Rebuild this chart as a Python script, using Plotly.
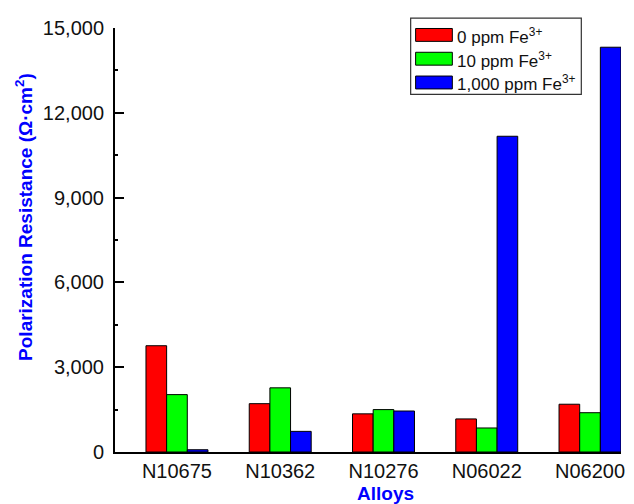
import plotly.graph_objects as go

alloys = ["N10675", "N10362", "N10276", "N06022", "N06200"]
series_names = ["0 ppm Fe<sup>3+</sup>", "10 ppm Fe<sup>3+</sup>", "1,000 ppm Fe<sup>3+</sup>"]
fe0 = [3760, 1710, 1350, 1170, 1690]
fe10 = [2030, 2270, 1500, 850, 1390]
fe1000 = [80, 730, 1450, 11170, 14320]
colors = ["#FF0000", "#00FF00", "#0000FF"]
values = [fe0, fe10, fe1000]

OFF = 8  # page body margin
W, H = 634 - OFF, 504 - OFF
L, T = 115 - OFF, 24 - OFF
pw, ph = 510, 428
R, B = W - L - pw, H - T - ph

# helpers: page-pixel -> paper coordinates
def px(x):
    return (x - OFF - L) / pw

def py(y):
    return (T + ph - (y - OFF)) / ph

fig = go.Figure()
for name, vals, col in zip(series_names, values, colors):
    fig.add_trace(go.Bar(
        x=list(range(len(alloys))), y=vals, name=name,
        marker=dict(color=col, line=dict(color="black", width=1)),
        showlegend=False,
    ))

font_family = "Liberation Sans, Arial, sans-serif"

fig.update_layout(
    width=W, height=H,
    margin=dict(l=L, r=R, t=T, b=B),
    plot_bgcolor="white", paper_bgcolor="white",
    barmode="group", bargap=0.4, bargroupgap=0,
    font=dict(family=font_family, size=20, color="#111111"),
)
fig.update_xaxes(
    range=[-0.6, 4.3],
    tickmode="array", tickvals=list(range(len(alloys))), ticktext=alloys,
    showline=True, linecolor="black", linewidth=2,
    ticks="", showgrid=False, zeroline=False,
    tickfont=dict(size=20), ticklabelstandoff=0,
)
fig.update_yaxes(
    range=[0, 15000], tickmode="linear", tick0=0, dtick=3000,
    tickformat=",d",
    showline=True, linecolor="black", linewidth=2,
    ticks="inside", ticklen=9, tickwidth=1.5, tickcolor="black",
    minor=dict(ticks="inside", ticklen=3, tickwidth=1.5, dtick=1500, tickcolor="black"),
    showgrid=False, zeroline=False,
    tickfont=dict(size=20), ticklabelstandoff=5,
)

# axis titles
fig.add_annotation(
    text="<b>Polarization Resistance (Ω·cm<sup>2</sup>)</b>",
    xref="paper", yref="paper", x=px(24), y=py(215),
    xanchor="center", yanchor="middle", textangle=-90, showarrow=False,
    font=dict(family=font_family, size=19, color="#0000FF"),
)
fig.add_annotation(
    text="<b>Alloys</b>",
    xref="paper", yref="paper", x=px(388), y=py(494),
    xanchor="center", yanchor="middle", showarrow=False,
    font=dict(family=font_family, size=19, color="#0000FF"),
)

# legend box
fig.add_shape(type="rect", xref="paper", yref="paper",
              x0=px(413), x1=px(585), y0=py(91), y1=py(14),
              line=dict(color="#333333", width=1.2), fillcolor="white", layer="above")
row_y = [31, 55, 79]
for name, col, ry in zip(series_names, colors, row_y):
    fig.add_shape(type="rect", xref="paper", yref="paper",
                  x0=px(418), x1=px(455), y0=py(ry + 6.5), y1=py(ry - 6.5),
                  line=dict(color="black", width=1), fillcolor=col, layer="above")
    fig.add_annotation(text=name, xref="paper", yref="paper",
                       x=px(458), y=py(ry + 1), xanchor="left", yanchor="middle",
                       showarrow=False,
                       font=dict(family=font_family, size=17, color="#111111"))

fig.write_html("out.html")
